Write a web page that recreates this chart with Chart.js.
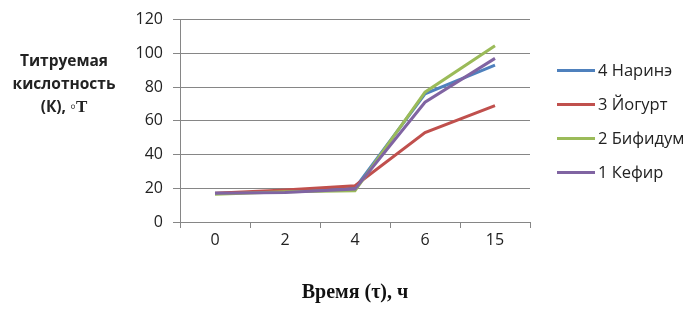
<!DOCTYPE html>
<html>
<head>
<meta charset="utf-8">
<script src="https://cdn.jsdelivr.net/npm/chart.js@4/dist/chart.umd.min.js"></script>
<style>
  body { margin: 0; background: #fff; }
  #wrap { position: relative; width: 698px; height: 311px; }
  #yTitle {
    position: absolute; left: 0px; top: 49px; width: 128px;
    font: bold 15.5px "Open Sans", "DejaVu Sans", sans-serif; line-height: 23px;
    text-align: center; color: #222;
  }
  #yTitle .s { font-family: "Liberation Serif", serif; font-size: 17px; }
  #xTitle {
    position: absolute; left: 180px; width: 350px; top: 280px;
    font: bold 20px "Liberation Serif", serif; text-align: center; color: #111;
  }
  #legend { position: absolute; left: 557px; top: 58px; font: 16.5px "Open Sans", sans-serif; color: #222; }
  #legend div { height: 34px; display: flex; align-items: flex-start; white-space: nowrap; }
  #legend span.ln { display: inline-block; width: 38px; height: 3px; margin-top: 11px; margin-right: 3px; }
</style>
</head>
<body>
<div id="wrap">
  <canvas id="chart" width="698" height="311"></canvas>
  <div id="yTitle">Титруемая<br>кислотность<br>(К), <span class="s">◦T</span></div>
  <div id="xTitle">Время (τ), ч</div>
  <div id="legend"></div>
</div>
<script>
// data
const hours = ["0", "2", "4", "6", "15"];
const narine = [17, 18, 20, 76, 93];
const yogurt = [17, 19, 21.5, 53, 69];
const bifidum = [16.5, 18, 18.5, 77, 104.5];
const kefir = [17, 17.5, 19.5, 71, 97];
const yTicks = [0, 20, 40, 60, 80, 100, 120];

const series = [
  { label: "4 Наринэ", data: narine, color: "#4F81BD" },
  { label: "3 Йогурт", data: yogurt, color: "#C0504D" },
  { label: "2 Бифидум", data: bifidum, color: "#9BBB59" },
  { label: "1 Кефир", data: kefir, color: "#8064A2" }
];

// legend (top to bottom as in the picture)
const legendEl = document.getElementById("legend");
series.forEach(s => {
  const row = document.createElement("div");
  row.innerHTML = '<span class="ln" style="background:' + s.color + '"></span>' + s.label;
  legendEl.appendChild(row);
});

// Chart.js paints dataset 0 on top, so reverse so Кефир ends up on top
const datasets = series.slice().reverse().map(s => ({
  label: s.label,
  data: s.data,
  borderColor: s.color,
  backgroundColor: s.color,
  borderWidth: 3,
  pointRadius: 0,
  tension: 0
}));

const ctx = document.getElementById("chart").getContext("2d");
new Chart(ctx, {
  type: "line",
  data: { labels: hours, datasets: datasets },
  options: {
    responsive: false,
    animation: false,
    layout: { padding: { top: 10, right: 168, bottom: 0, left: 0 } },
    plugins: { legend: { display: false }, tooltip: { enabled: false } },
    scales: {
      x: {
        offset: true,
        grid: { offset: true, drawOnChartArea: false, tickLength: 6, color: "#868686" },
        border: { color: "#868686" },
        ticks: { color: "#222", font: { family: "Open Sans", size: 16 }, padding: 3 },
        afterFit: s => { s.height = 89; }
      },
      y: {
        min: 0, max: 120,
        afterBuildTicks: s => { s.ticks = yTicks.map(v => ({ value: v })); },
        grid: { color: "#868686", tickLength: 7 },
        border: { color: "#868686" },
        ticks: { color: "#222", font: { family: "Open Sans", size: 16 }, padding: 10 },
        afterFit: s => { s.width = 180; }
      }
    }
  }
});
</script>
</body>
</html>
